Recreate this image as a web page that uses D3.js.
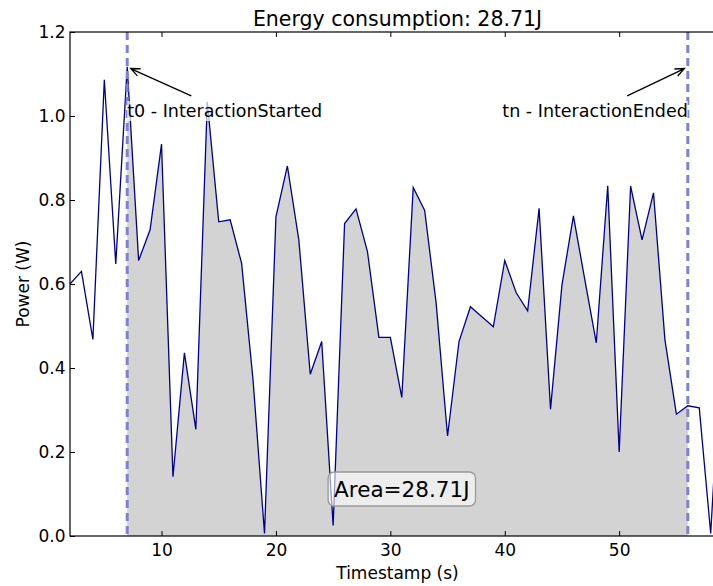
<!DOCTYPE html>
<html>
<head>
<meta charset="utf-8">
<script src="https://cdn.jsdelivr.net/npm/d3@7"></script>
<style>
    body { margin: 0; background: #fff; }
    svg { display: block; font-family: "DejaVu Sans", sans-serif; }
</style>
</head>
<body>
<div id="chart"></div>
<script>
// data
const timestamps = [2, 3, 4, 5, 6, 7, 8, 9, 10, 11, 12, 13, 14, 15, 16, 17, 18, 19, 20,
    21, 22, 23, 24, 25, 26, 27, 28, 29, 30, 31, 32, 33, 34, 35, 36, 37, 38, 39, 40,
    41, 42, 43, 44, 45, 46, 47, 48, 49, 50, 51, 52, 53, 54, 55, 56, 57, 58, 59];
const powerValues = [0.600, 0.630, 0.468, 1.086, 0.648, 1.117, 0.656, 0.729, 0.933, 0.141,
    0.436, 0.254, 1.034, 0.748, 0.753, 0.649, 0.371, 0.006, 0.760, 0.881,
    0.705, 0.385, 0.463, 0.025, 0.744, 0.779, 0.677, 0.473, 0.473, 0.330,
    0.830, 0.775, 0.555, 0.238, 0.463, 0.546, 0.522, 0.498, 0.656, 0.579,
    0.536, 0.780, 0.302, 0.598, 0.762, 0.610, 0.460, 0.834, 0.200, 0.833,
    0.705, 0.817, 0.467, 0.290, 0.310, 0.305, 0.006, 0.480];
const xTicks = [10, 20, 30, 40, 50];
const yTicks = [0.0, 0.2, 0.4, 0.6, 0.8, 1.0, 1.2];
const xDomain = [2, 59.25];
const yDomain = [0, 1.2];
const interactionStart = 7;
const interactionEnd = 56;
const energy = 28.71;

let drawChart = () => {
    const width = 713, height = 586;
    // the right edge of the axes is cut off by the picture
    const margin = { top: 32, left: 70, bottom: 50, right: -12 };
    const lineColor = '#00008b';
    const dashColor = '#8080d2';

    const svg = d3.select('#chart')
        .append('svg')
        .attr('width', width)
        .attr('height', height);

    const x = d3.scaleLinear()
        .domain(xDomain)
        .range([margin.left, width - margin.right]);

    const y = d3.scaleLinear()
        .domain(yDomain)
        .range([height - margin.bottom, margin.top]);

    const data = timestamps.map((t, i) => ({ t: t, p: powerValues[i] }));

    svg.append('clipPath').attr('id', 'plotClip')
        .append('rect')
        .attr('x', x.range()[0]).attr('y', y.range()[1])
        .attr('width', x.range()[1] - x.range()[0])
        .attr('height', y.range()[0] - y.range()[1]);

    const plot = svg.append('g').attr('clip-path', 'url(#plotClip)');

    // filled area between the two interaction marks
    const inside = data.filter(d => d.t >= interactionStart && d.t <= interactionEnd);
    const area = d3.area()
        .x(d => x(d.t))
        .y0(y(0))
        .y1(d => y(d.p));

    plot.append('path')
        .datum(inside)
        .attr('d', area)
        .attr('fill', '#d3d3d3');

    const line = d3.line()
        .x(d => x(d.t))
        .y(d => y(d.p));

    plot.append('path')
        .datum(data)
        .attr('d', line)
        .attr('fill', 'none')
        .attr('stroke', lineColor)
        .attr('stroke-width', 1.3)
        .attr('stroke-linejoin', 'miter');

    // dashed interaction lines
    plot.selectAll('.vmark')
        .data([interactionStart, interactionEnd])
        .join('line')
        .attr('class', 'vmark')
        .attr('x1', d => x(d)).attr('x2', d => x(d))
        .attr('y1', y(yDomain[1])).attr('y2', y(0))
        .attr('stroke', dashColor)
        .attr('stroke-width', 3)
        .attr('stroke-dasharray', '8,5');

    // axes, matplotlib classic style: ticks pointing in
    const axisStyle = (g) => {
        g.select('.domain').remove();
        g.selectAll('.tick line').attr('stroke', '#000').attr('stroke-width', 1);
        g.selectAll('.tick text').attr('font-size', '17px').attr('fill', '#000')
            .attr('font-family', '"DejaVu Sans", sans-serif');
    };

    svg.append('g')
        .attr('transform', `translate(0,${y(0)})`)
        .call(d3.axisBottom(x).tickValues(xTicks).tickFormat(d3.format('d'))
            .tickSizeInner(-5).tickSizeOuter(0).tickPadding(8))
        .call(axisStyle);

    svg.append('g')
        .attr('transform', `translate(0,${y(yDomain[1])})`)
        .call(d3.axisTop(x).tickValues(xTicks).tickFormat('')
            .tickSizeInner(-5).tickSizeOuter(0))
        .call(axisStyle);

    svg.append('g')
        .attr('transform', `translate(${x(xDomain[0])},0)`)
        .call(d3.axisLeft(y).tickValues(yTicks).tickFormat(d3.format('.1f'))
            .tickSizeInner(-5).tickSizeOuter(0).tickPadding(4.5))
        .call(axisStyle);

    // frame
    svg.append('rect')
        .attr('x', x.range()[0]).attr('y', y.range()[1])
        .attr('width', x.range()[1] - x.range()[0])
        .attr('height', y.range()[0] - y.range()[1])
        .attr('fill', 'none')
        .attr('stroke', '#000')
        .attr('stroke-width', 1.2);

    // annotations with arrows
    const notes = [
        { label: 't0 - InteractionStarted', tx: interactionStart, anchor: 'start',
          head: [7.3, 1.113], tail: [12.6, 1.048] },
        { label: 'tn - InteractionEnded', tx: interactionEnd, anchor: 'end',
          head: [55.7, 1.113], tail: [50.7, 1.048] }
    ];

    notes.forEach(n => {
        const tg = svg.append('g');
        const txt = tg.append('text')
            .attr('x', x(n.tx))
            .attr('y', y(1.0) + 1)
            .attr('text-anchor', n.anchor)
            .attr('font-size', '17.5px')
            .text(n.label);
        const bb = txt.node().getBBox();
        tg.insert('rect', 'text')
            .attr('x', bb.x).attr('y', bb.y)
            .attr('width', bb.width).attr('height', bb.height)
            .attr('fill', '#fff').attr('opacity', 0.7);

        const hx = x(n.head[0]), hy = y(n.head[1]);
        const sx = x(n.tail[0]), sy = y(n.tail[1]);
        const ang = Math.atan2(sy - hy, sx - hx);
        const len = 10, spread = 0.4;
        svg.append('path')
            .attr('d', `M${sx},${sy}L${hx},${hy}` +
                `M${hx + len * Math.cos(ang - spread)},${hy + len * Math.sin(ang - spread)}L${hx},${hy}` +
                `L${hx + len * Math.cos(ang + spread)},${hy + len * Math.sin(ang + spread)}`)
            .attr('fill', 'none')
            .attr('stroke', '#000')
            .attr('stroke-width', 1.3);
    });

    // area label box
    const ag = svg.append('g');
    const areaText = ag.append('text')
        .attr('x', x(31.0))
        .attr('y', y(0.094))
        .attr('text-anchor', 'middle')
        .attr('font-size', '21.5px')
        .text('Area=' + energy.toFixed(2) + 'J');
    const ab = areaText.node().getBBox();
    ag.insert('rect', 'text')
        .attr('x', ab.x - 6).attr('y', ab.y + ab.height / 2 - 17)
        .attr('width', ab.width + 12).attr('height', 34)
        .attr('rx', 6).attr('ry', 6)
        .attr('fill', '#fff').attr('fill-opacity', 0.6)
        .attr('stroke', '#999').attr('stroke-width', 1.3);

    // titles
    svg.append('text')
        .attr('x', (x.range()[0] + x.range()[1]) / 2)
        .attr('y', 26)
        .attr('text-anchor', 'middle')
        .attr('font-size', '20.5px')
        .text('Energy consumption: ' + energy.toFixed(2) + 'J');

    svg.append('text')
        .attr('x', (x.range()[0] + x.range()[1]) / 2)
        .attr('y', 579)
        .attr('text-anchor', 'middle')
        .attr('font-size', '17px')
        .text('Timestamp (s)');

    svg.append('text')
        .attr('transform', `translate(29,${(y.range()[0] + y.range()[1]) / 2}) rotate(-90)`)
        .attr('text-anchor', 'middle')
        .attr('font-size', '17px')
        .text('Power (W)');
}

drawChart();
</script>
</body>
</html>
